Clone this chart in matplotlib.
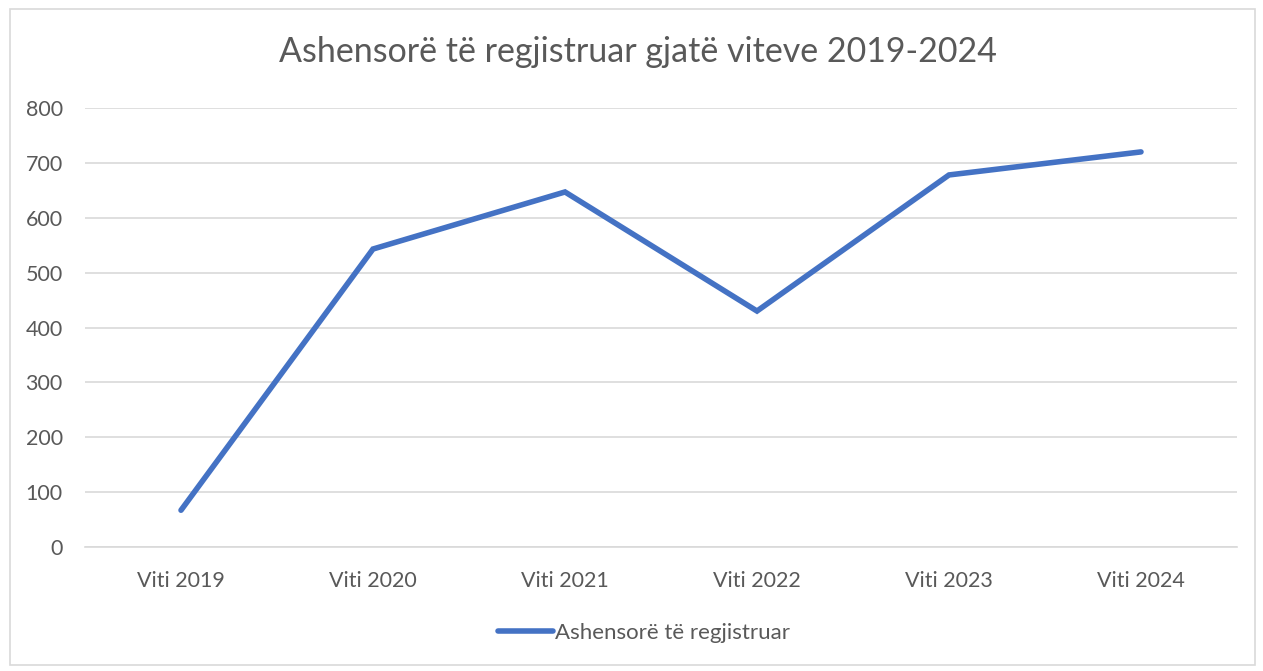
import matplotlib.pyplot as plt
from matplotlib.patches import Rectangle

# Data
years = ["Viti 2019", "Viti 2020", "Viti 2021", "Viti 2022", "Viti 2023", "Viti 2024"]
elevators = [67, 543, 647, 430, 678, 720]
series_name = "Ashensorë të regjistruar"
title = "Ashensorë të regjistruar gjatë viteve 2019-2024"
y_ticks = [0, 100, 200, 300, 400, 500, 600, 700, 800]

text_color = "#595959"
line_color = "#4472C4"

plt.rcParams['font.family'] = ['Lato', 'DejaVu Sans']

fig = plt.figure(figsize=(12.63, 6.71), dpi=100)
ax = fig.add_axes([85 / 1263, 1 - 547 / 671, 1152 / 1263, 439 / 671])

# outer chart border
fig.patches.append(Rectangle((10 / 1263, 6 / 671), 1245 / 1263, 656 / 671, transform=fig.transFigure,
                             fill=False, edgecolor="#D9D9D9", linewidth=1.2))

x = list(range(len(years)))
ax.plot(x, elevators, color=line_color, linewidth=4.0, solid_capstyle="round",
        solid_joinstyle="miter", label=series_name, zorder=3)

ax.set_xlim(-0.5, len(years) - 0.5)
ax.set_ylim(0, 800)
ax.set_yticks(y_ticks)
ax.set_xticks(x)
ax.set_xticklabels(years)
ax.grid(axis="y", color="#D9D9D9", linewidth=1.2)
ax.set_axisbelow(True)
for side in ["top", "right", "left"]:
    ax.spines[side].set_visible(False)
ax.spines["bottom"].set_color("#D9D9D9")
ax.spines["bottom"].set_linewidth(1.2)
ax.tick_params(axis="both", length=0, labelsize=15.5, labelcolor=text_color)
ax.tick_params(axis="y", pad=16)
ax.tick_params(axis="x", pad=17)

fig.text(638 / 1263, 1 - 52 / 671, title, ha="center", va="center", fontsize=24.5, color=text_color)

leg = fig.legend(loc="center", bbox_to_anchor=(644 / 1263, 1 - 633 / 671), frameon=False,
                 fontsize=16, handlelength=2.5, handletextpad=0.1)
for t in leg.get_texts():
    t.set_color(text_color)

fig.savefig("out.png", dpi=100)
